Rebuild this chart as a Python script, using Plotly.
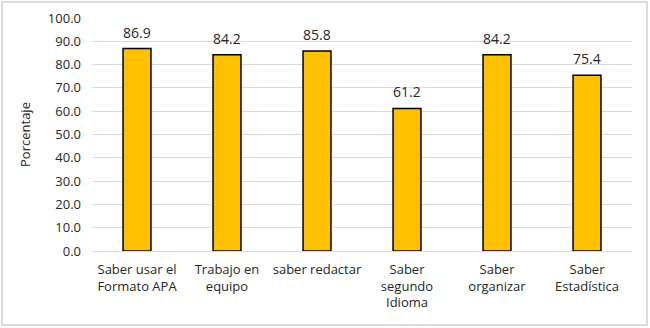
import plotly.graph_objects as go

categories = ["Saber usar el<br>Formato APA", "Trabajo en<br>equipo", "saber redactar",
              "Saber<br>segundo<br>Idioma", "Saber<br>organizar", "Saber<br>Estadística"]
values = [86.9, 84.2, 85.8, 61.2, 84.2, 75.4]
y_ticks = [0, 10, 20, 30, 40, 50, 60, 70, 80, 90, 100]

font = "'Open Sans', sans-serif"
txt = "#262626"

fig = go.Figure(go.Bar(
    x=categories, y=values,
    marker=dict(color="#FFC000", line=dict(color="#000000", width=1.5)),
    hoverinfo="skip",
))

for c, v in zip(categories, values):
    fig.add_annotation(x=c, y=v, text=f"{v:.1f}", showarrow=False,
                       yanchor="bottom", yshift=5,
                       font=dict(size=14, color=txt, family=font))

fig.update_layout(
    width=650, height=328,
    margin=dict(l=92, r=18, t=18, b=77, autoexpand=False),
    paper_bgcolor="white", plot_bgcolor="white",
    bargap=0.69,
    showlegend=False,
    font=dict(family=font, size=13, color=txt),
    yaxis=dict(range=[0, 100], tickvals=y_ticks, tickformat=".1f",
               showgrid=True, gridcolor="#D9D9D9", gridwidth=1,
               zeroline=False, showline=False, ticks="", automargin=False,
               ticklabelstandoff=10,
               title=dict(text="Porcentaje", font=dict(size=13), standoff=14),
               tickfont=dict(size=13)),
    xaxis=dict(showline=True, linecolor="#D9D9D9", linewidth=1, ticks="",
               automargin=False, ticklabelstandoff=6,
               tickfont=dict(size=13), tickangle=0),
    shapes=[dict(type="rect", xref="paper", yref="paper",
                 x0=-0.1667, x1=1.0278, y0=-0.3176, y1=1.0687,
                 line=dict(color="#D0D0D0", width=1.5), fillcolor="rgba(0,0,0,0)",
                 layer="above")],
)

fig.write_html("out.html", config={"displayModeBar": False},
               post_script="document.body.style.margin='0';document.body.style.padding='0';")
